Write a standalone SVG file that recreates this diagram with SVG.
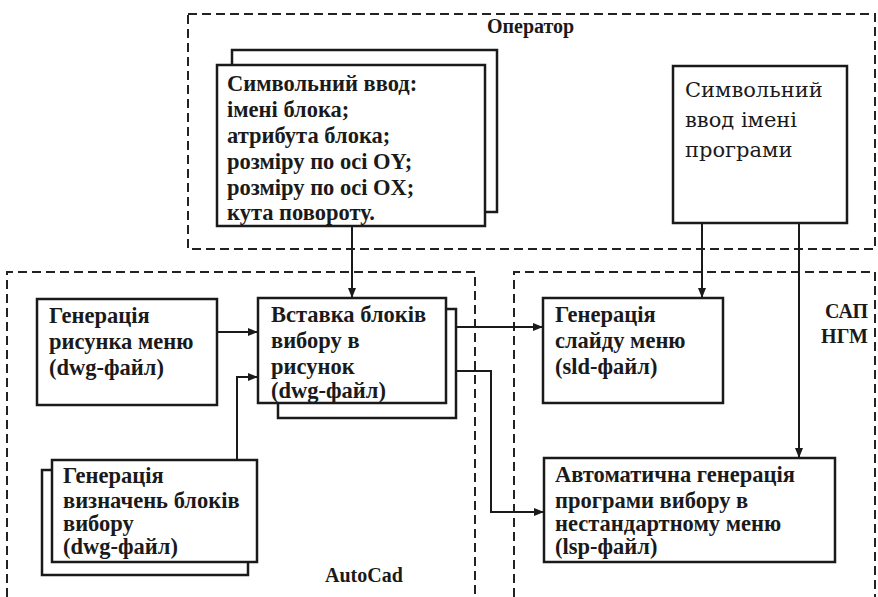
<svg xmlns="http://www.w3.org/2000/svg" width="878" height="597" viewBox="0 0 878 597">
<style>
.box{fill:#fff;stroke:#1a1a1a;stroke-width:2.5}
.dash{fill:none;stroke:#222;stroke-width:2;stroke-dasharray:9 5}
.t{font-family:"Liberation Serif",serif;font-weight:bold;font-size:22.5px;fill:#1a1a1a}
.r{font-family:"DejaVu Serif",serif;font-size:21px;fill:#1a1a1a}
.lbl{font-family:"Liberation Serif",serif;font-weight:bold;font-size:20px;fill:#1a1a1a}
.c{fill:none;stroke:#1a1a1a;stroke-width:2}
</style>
<defs>
<marker id="ah" markerWidth="10" markerHeight="8" refX="9" refY="4" orient="auto" markerUnits="userSpaceOnUse">
<path d="M0,0 L10,4 L0,8 Z" fill="#1a1a1a"/>
</marker>
</defs>
<rect width="878" height="597" fill="#fff"/>
<g id="groups">
<rect class="dash" x="188" y="14" width="687" height="235"/>
<path class="dash" d="M7,597 V272 H475 V597"/>
<path class="dash" d="M514,597 V272 H875 V597"/>
<text class="lbl" x="487" y="33" font-size="18">Оператор</text>
<text class="lbl" x="325" y="582">AutoCad</text>
<text class="lbl" x="868" y="318" text-anchor="end" font-size="22">САП</text>
<text class="lbl" x="868" y="343" text-anchor="end" font-size="22">НГМ</text>
</g>
<g id="connectors">
<path class="c" d="M352,226 V297" marker-end="url(#ah)"/>
<path class="c" d="M702,223 V297" marker-end="url(#ah)"/>
<path class="c" d="M799,223 V457" marker-end="url(#ah)"/>
<path class="c" d="M217,332 H257" marker-end="url(#ah)"/>
<path class="c" d="M237,460 V377 H257" marker-end="url(#ah)"/>
<path class="c" d="M446,327 H542" marker-end="url(#ah)"/>
<path class="c" d="M446,371 H491 V512 H543" marker-end="url(#ah)"/>
</g>
<g id="symbolic-input">
<rect class="box" x="232" y="50" width="265" height="162"/>
<rect class="box" x="217" y="65" width="268" height="161"/>
<text class="t" x="227" y="91">Символьний ввод:</text>
<text class="t" x="227" y="117">імені блока;</text>
<text class="t" x="227" y="143">атрибута блока;</text>
<text class="t" x="227" y="169">розміру по осі OY;</text>
<text class="t" x="227" y="195">розміру по осі OX;</text>
<text class="t" x="227" y="220">кута повороту.</text>
</g>
<g id="program-name">
<rect class="box" x="673" y="66" width="174" height="157"/>
<text class="r" x="685" y="97">Символьний</text>
<text class="r" x="685" y="127">ввод імені</text>
<text class="r" x="685" y="157">програми</text>
</g>
<g id="menu-drawing">
<rect class="box" x="37" y="299" width="180" height="106"/>
<text class="t" x="49" y="323">Генерація</text>
<text class="t" x="49" y="349">рисунка меню</text>
<text class="t" x="49" y="375">(dwg-файл)</text>
</g>
<g id="insert-blocks">
<rect class="box" x="278" y="309" width="178" height="109"/>
<rect class="box" x="258" y="298" width="188" height="105"/>
<text class="t" x="271" y="322">Вставка блоків</text>
<text class="t" x="271" y="348">вибору в</text>
<text class="t" x="271" y="374">рисунок</text>
<text class="t" x="271" y="398">(dwg-файл)</text>
</g>
<g id="block-definitions">
<rect class="box" x="42" y="470" width="206" height="105"/>
<rect class="box" x="52" y="460" width="205" height="102"/>
<text class="t" x="63" y="483">Генерація</text>
<text class="t" x="63" y="508">визначень блоків</text>
<text class="t" x="63" y="531">вибору</text>
<text class="t" x="63" y="554">(dwg-файл)</text>
</g>
<g id="slide">
<rect class="box" x="543" y="298" width="180" height="105"/>
<text class="t" x="555" y="322">Генерація</text>
<text class="t" x="555" y="348">слайду меню</text>
<text class="t" x="555" y="374">(sld-файл)</text>
</g>
<g id="auto-program">
<rect class="box" x="544" y="458" width="291" height="104"/>
<text class="t" x="555" y="482">Автоматична генерація</text>
<text class="t" x="555" y="508">програми вибору в</text>
<text class="t" x="555" y="531">нестандартному меню</text>
<text class="t" x="555" y="554">(lsp-файл)</text>
</g>
</svg>
